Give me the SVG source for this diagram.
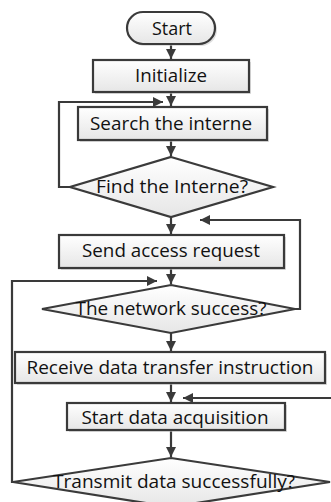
<svg xmlns="http://www.w3.org/2000/svg" width="331" height="502" viewBox="0 0 331 502">
<style>
.shape{fill:url(#g);stroke:#3a3a3a;stroke-width:2.2}
.shadow{fill:#c8c8c8;opacity:0.6}
.lbl{font-family:"Open Sans","Liberation Sans",sans-serif;font-size:18.5px;fill:#111;text-anchor:middle}
.conn{fill:none;stroke:#3a3a3a;stroke-width:2.2}
</style>
<defs>
<linearGradient id="g" x1="0" y1="0" x2="0" y2="1">
<stop offset="0" stop-color="#ffffff"/>
<stop offset="1" stop-color="#e6e6e6"/>
</linearGradient>
<marker id="ah" viewBox="0 0 10 10" refX="10" refY="5" markerWidth="4.6" markerHeight="4.6" orient="auto" markerUnits="strokeWidth">
<path d="M0,0 L10,5 L0,10 z" fill="#3a3a3a"/>
</marker>
</defs>
<g id="connectors">
<line class="conn" x1="171" y1="44" x2="171" y2="59" marker-end="url(#ah)"/>
<line class="conn" x1="171" y1="92" x2="171" y2="106" marker-end="url(#ah)"/>
<line class="conn" x1="171" y1="140" x2="171" y2="156" marker-end="url(#ah)"/>
<line class="conn" x1="171" y1="217" x2="171" y2="234" marker-end="url(#ah)"/>
<line class="conn" x1="171" y1="268" x2="171" y2="284" marker-end="url(#ah)"/>
<line class="conn" x1="171" y1="333" x2="171" y2="351" marker-end="url(#ah)"/>
<line class="conn" x1="171" y1="383" x2="171" y2="402" marker-end="url(#ah)"/>
<line class="conn" x1="171" y1="430" x2="171" y2="457" marker-end="url(#ah)"/>
<polyline class="conn" points="70,187 59,187 59,102 163,102" marker-end="url(#ah)"/>
<polyline class="conn" points="295,309 300,309 300,220 200,220" marker-end="url(#ah)"/>
<polyline class="conn" points="13,482 12,482 12,281 157,281" marker-end="url(#ah)"/>
<polyline class="conn" points="332,398 183,398" marker-end="url(#ah)"/>
</g>
<g id="start">
<rect class="shadow" x="129" y="14" width="88" height="32" rx="16"/>
<rect class="shape" x="127" y="12" width="88" height="32" rx="16"/>
<text class="lbl" x="172" y="35" textLength="40" lengthAdjust="spacingAndGlyphs">Start</text>
</g>
<g id="initialize">
<rect class="shadow" x="95" y="62" width="156" height="32"/>
<rect class="shape" x="93" y="60" width="156" height="32"/>
<text class="lbl" x="171" y="82" textLength="72" lengthAdjust="spacingAndGlyphs">Initialize</text>
</g>
<g id="search">
<rect class="shadow" x="80" y="109" width="189" height="33"/>
<rect class="shape" x="78" y="107" width="189" height="33"/>
<text class="lbl" x="171" y="130" textLength="162" lengthAdjust="spacingAndGlyphs">Search the interne</text>
</g>
<g id="find">
<polygon class="shape" points="171,157 273,187 171,217 70,187"/>
<text class="lbl" x="172" y="193" textLength="152" lengthAdjust="spacingAndGlyphs">Find the Interne?</text>
</g>
<g id="send">
<rect class="shadow" x="61" y="237" width="225" height="33"/>
<rect class="shape" x="59" y="235" width="225" height="33"/>
<text class="lbl" x="171" y="257" textLength="178" lengthAdjust="spacingAndGlyphs">Send access request</text>
</g>
<g id="network">
<polygon class="shape" points="171,285 295,309 171,333 42,309"/>
<text class="lbl" x="171" y="315" textLength="191" lengthAdjust="spacingAndGlyphs">The network success?</text>
</g>
<g id="receive">
<rect class="shadow" x="17" y="354" width="310" height="31"/>
<rect class="shape" x="15" y="352" width="310" height="31"/>
<text class="lbl" x="170" y="374" textLength="287" lengthAdjust="spacingAndGlyphs">Receive data transfer instruction</text>
</g>
<g id="acquire">
<rect class="shadow" x="69" y="405" width="218" height="27"/>
<rect class="shape" x="67" y="403" width="218" height="27"/>
<text class="lbl" x="175" y="424" textLength="187" lengthAdjust="spacingAndGlyphs">Start data acquisition</text>
</g>
<g id="transmit">
<polygon class="shape" points="171,458 330,482 171,507 13,482"/>
<text class="lbl" x="174" y="488" textLength="242" lengthAdjust="spacingAndGlyphs">Transmit data successfully?</text>
</g>
</svg>
